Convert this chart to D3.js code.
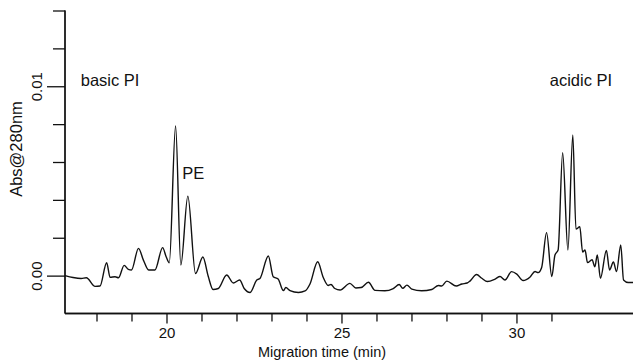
<!DOCTYPE html>
<html>
<head>
<meta charset="utf-8">
<script src="https://cdn.jsdelivr.net/npm/d3@7"></script>
<style>
  html, body { margin: 0; padding: 0; background: #fff; }
  svg { display: block; }
  text { font-family: "Liberation Sans", Arial, sans-serif; fill: #111; }
</style>
</head>
<body>
<svg id="chart" width="633" height="360"></svg>
<script>
// Migration time (min)
const times = [17.10,17.33,17.56,17.71,17.96,18.10,18.29,18.39,18.53,18.63,18.79,18.91,19.00,19.20,19.34,19.49,19.67,19.89,19.99,20.08,
  20.26,20.41,20.61,20.83,21.04,21.19,21.33,21.48,21.72,21.91,22.09,22.22,22.39,22.58,22.67,22.91,23.05,23.19,23.34,23.41,
  23.53,23.77,23.96,24.10,24.32,24.48,24.62,24.70,24.81,24.96,25.24,25.41,25.56,25.77,25.96,26.24,26.48,26.65,26.75,26.87,
  27.01,27.29,27.58,27.77,27.86,28.01,28.28,28.44,28.59,28.67,28.86,29.01,29.17,29.39,29.53,29.67,29.86,30.01,30.19,30.39,
  30.53,30.62,30.72,30.86,31.01,31.10,31.19,31.32,31.47,31.61,31.70,31.81,31.89,31.96,32.03,32.16,32.24,32.31,32.40,32.57,
  32.66,32.77,32.86,32.98,33.06,33.19,33.33];
// Absorbance at 280 nm
const absorbance = [0.00000,-0.00010,-0.00015,-0.00011,-0.00057,-0.00055,0.00068,-0.00009,-0.00006,-0.00011,0.00054,0.00033,0.00030,0.00144,0.00082,0.00030,0.00030,0.00148,0.00100,0.00068,
  0.00790,0.00056,0.00420,0.00011,0.00098,-0.00002,-0.00073,-0.00068,0.00003,-0.00039,-0.00023,-0.00068,-0.00089,-0.00023,-0.00015,0.00104,-0.00006,-0.00018,-0.00079,-0.00063,
  -0.00079,-0.00089,-0.00081,-0.00044,0.00073,-0.00010,-0.00052,-0.00047,-0.00068,-0.00076,-0.00041,-0.00065,-0.00063,-0.00035,-0.00078,-0.00080,-0.00068,-0.00047,-0.00067,-0.00050,
  -0.00071,-0.00080,-0.00073,-0.00052,-0.00055,-0.00029,-0.00055,-0.00044,-0.00039,-0.00029,0.00006,-0.00014,-0.00031,-0.00018,-0.00005,-0.00023,0.00021,0.00008,-0.00026,-0.00007,
  0.00022,0.00016,0.00043,0.00227,-0.00005,0.00109,0.00135,0.00649,0.00135,0.00743,0.00246,0.00258,0.00125,0.00135,0.00069,0.00084,0.00047,0.00109,-0.00014,0.00133,
  0.00030,0.00072,0.00021,0.00162,-0.00023,-0.00036,-0.00036];

const xTicks = [18,19,20,21,22,23,24,25,26,27,28,29,30,31];
const xLabeledTicks = [20,25,30];
const yTicks = [0.002,0.004,0.006,0.008,0.012,0.014];
const yLabeledTicks = [0.00,0.01];
const yTickLabels = ["0.00","0.01"];
const annotations = [
  {label:"basic PI", t:17.55, a:0.0100},
  {label:"PE", t:20.45, a:0.0051},
  {label:"acidic PI", t:30.95, a:0.0100}
];

const svg = d3.select("#chart");
const x = d3.scaleLinear().domain([17.1, 33.33]).range([65, 633]);
const y = d3.scaleLinear().domain([-0.002, 0.014]).range([313.5, 10.5]);
const ink = "#111";

// x axis
const gx = svg.append("g").attr("transform", `translate(0,${y.range()[0]})`);
gx.call(d3.axisBottom(x).tickValues(xTicks.filter(t => !xLabeledTicks.includes(t))).tickSize(8).tickFormat(""));
const gx2 = svg.append("g").attr("transform", `translate(0,${y.range()[0]})`);
gx2.call(d3.axisBottom(x).tickValues(xLabeledTicks).tickSize(10).tickFormat(d3.format("d")).tickPadding(4));
[gx, gx2].forEach(g => {
  g.select(".domain").attr("d", `M${x.range()[0]},0H${x.range()[1]}`).attr("stroke", ink).attr("stroke-width", 1.3);
  g.selectAll(".tick line").attr("stroke", ink).attr("stroke-width", 1.3);
  g.selectAll(".tick text").attr("font-size", 15).attr("font-family", "Liberation Sans, Arial, sans-serif").attr("fill", ink);
});

// y axis
const gy = svg.append("g").attr("transform", `translate(${x.range()[0]},0)`);
gy.call(d3.axisLeft(y).tickValues(yTicks).tickSize(12).tickFormat(""));
const gy2 = svg.append("g").attr("transform", `translate(${x.range()[0]},0)`);
gy2.call(d3.axisLeft(y).tickValues(yLabeledTicks).tickSize(18).tickFormat((d,i) => yTickLabels[i]));
[gy, gy2].forEach(g => {
  g.select(".domain").attr("d", `M0,${y.range()[1]}V${y.range()[0]}`).attr("stroke", ink).attr("stroke-width", 1.3);
  g.selectAll(".tick line").attr("stroke", ink).attr("stroke-width", 1.3);
});
gy2.selectAll(".tick text")
  .attr("font-size", 15).attr("font-family", "Liberation Sans, Arial, sans-serif").attr("fill", ink)
  .attr("x", null).attr("dy", null)
  .attr("text-anchor", "middle")
  .attr("transform", "translate(-23,0) rotate(-90)");

// axis titles
svg.append("text").attr("x", 322).attr("y", 356.5).attr("text-anchor", "middle")
  .attr("font-size", 14.5).text("Migration time (min)");
svg.append("text").attr("transform", "translate(22,149) rotate(-90)").attr("text-anchor", "middle")
  .attr("font-size", 16.5).text("Abs@280nm");

// trace
const data = times.map((t, i) => ({t, a: absorbance[i]}));
const line = d3.line().x(d => x(d.t)).y(d => y(d.a)).curve(d3.curveMonotoneX);
svg.append("path").datum(data).attr("d", line)
  .attr("fill", "none").attr("stroke", ink).attr("stroke-width", 1.4).attr("stroke-linejoin", "round");

// annotations
svg.selectAll("text.ann").data(annotations).join("text").attr("class", "ann")
  .attr("x", d => x(d.t)).attr("y", d => y(d.a))
  .attr("font-size", 16.5).text(d => d.label);
</script>
</body>
</html>
